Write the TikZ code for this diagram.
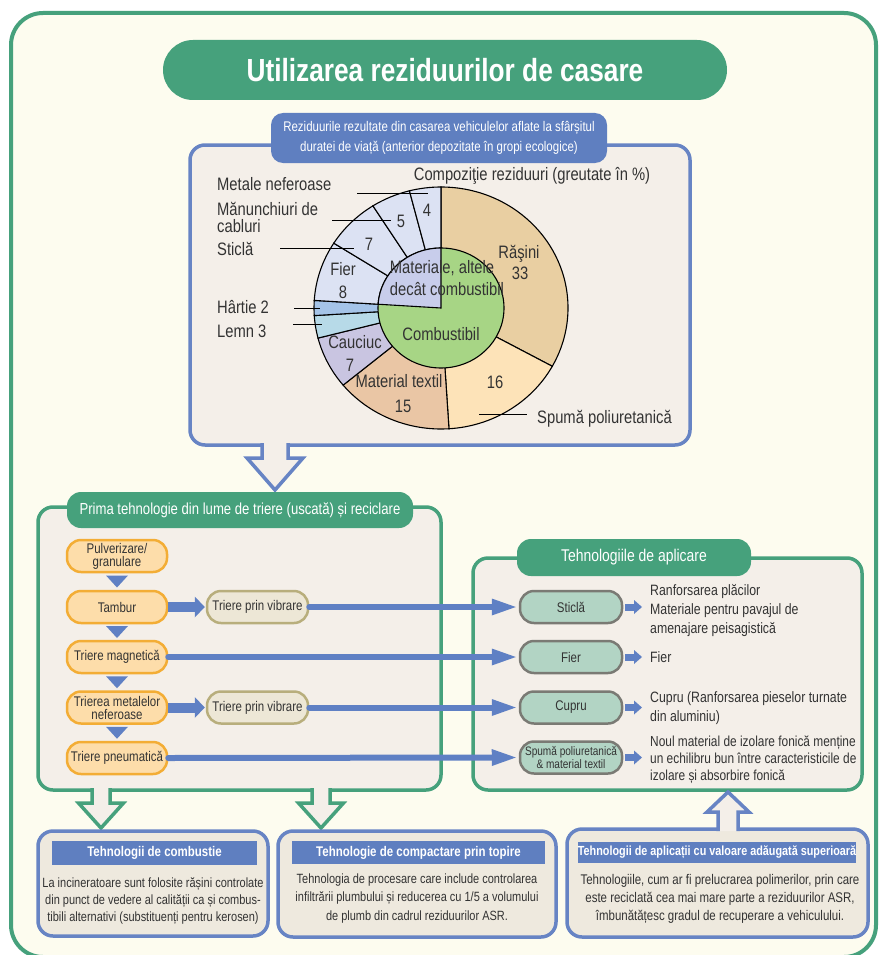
\documentclass[tikz,border=0pt]{standalone}
\usepackage{fontspec}
\setmainfont{Liberation Sans}[FakeStretch=0.82]
\usetikzlibrary{arrows.meta,calc}

\definecolor{cream}{HTML}{FDFCEF}
\definecolor{frameG}{HTML}{46A17C}
\definecolor{boxF}{HTML}{F4EFE9}
\definecolor{blueB}{HTML}{6784C4}
\definecolor{blueF}{HTML}{5F7FC0}
\definecolor{lineB}{HTML}{5F80C4}
\definecolor{orangeB}{HTML}{F3AD35}
\definecolor{orangeF}{HTML}{FDDDAA}
\definecolor{oliveB}{HTML}{B8AE7C}
\definecolor{oliveF}{HTML}{EDE7D6}
\definecolor{tealF}{HTML}{B2D4C4}
\definecolor{tealB}{HTML}{7A7A74}
\definecolor{lowF}{HTML}{EEE9DE}
\definecolor{txt}{HTML}{333333}
\definecolor{resin}{HTML}{E9CFA2}
\definecolor{foam}{HTML}{FDE3B8}
\definecolor{textile}{HTML}{EAC6A5}
\definecolor{rubber}{HTML}{C9C5E1}
\definecolor{wood}{HTML}{B7DAE8}
\definecolor{paper}{HTML}{A5C4E8}
\definecolor{metal}{HTML}{DCE2F3}
\definecolor{nonfuel}{HTML}{C8CDEB}
\definecolor{fuel}{HTML}{A7D585}

\newcommand\setfs[2]{\fontsize{#1}{#2}\selectfont}

\tikzset{
  every node/.style={inner sep=0pt, text=txt},
  heading/.style={fill=frameG, rounded corners=14pt, text=white, align=center},
  panel/.style={line width=3.5pt, rounded corners=15pt},
  pillbase/.style={line width=2.5pt, rounded corners=14pt, minimum height=32pt,
    align=center, font=\setfs{14}{13}},
  pillO/.style={pillbase, draw=orangeB, fill=orangeF, minimum width=100pt},
  pillV/.style={pillbase, draw=oliveB, fill=oliveF, minimum width=101pt},
  pillT/.style={pillbase, draw=tealB, fill=tealF, minimum width=102pt},
  feed/.style={draw=lineB, line width=6pt, line cap=round,
    -{Triangle[length=24pt,width=17pt,line width=0pt]}, shorten >=3pt},
  fatarrow/.style={draw=lineB, line width=10pt,
    -{Triangle[length=10pt,width=21pt,line width=0pt]}, shorten >=1pt},
  tiparrow/.style={draw=lineB, line width=7pt,
    -{Triangle[length=8pt,width=14pt,line width=0pt]}},
  slice/.style={draw=black, line width=1.1pt},
  lead/.style={draw=black, line width=1pt},
  pielbl/.style={font=\setfs{18}{17}},
  usetext/.style={anchor=west, align=left},
  lowhead/.style={fill=blueF, text=white, font=\bfseries\setfs{14}{14}},
  lowtext/.style={align=center},
  hollow/.style={line width=3.5pt, line join=miter}
}

\begin{document}
\begin{tikzpicture}[x=1pt, y=-1pt]
\useasboundingbox (0,0) rectangle (880,955);
\fill[white] (0,0) rectangle (880,955);

% outer frame and title
\filldraw[draw=frameG, fill=cream, line width=4pt, rounded corners=32pt] (11,13) rectangle (876,957);
\node[heading, rounded corners=30pt, minimum width=564pt, minimum height=60pt,
      font=\bfseries\setfs{32}{32}] (title) at (445,70) {Utilizarea reziduurilor de casare};

% residue composition panel
\filldraw[panel, draw=blueB, fill=boxF] (190,145) rectangle (690,445);
\node[fill=blueF, rounded corners=12pt, minimum width=336pt, minimum height=50pt,
      text=white, align=center, font=\setfs{14}{20.5}] (srchead) at (439,138)
  {Reziduurile rezultate din casarea vehiculelor aflate la sfârșitul\\duratei de viață (anterior depozitate în gropi ecologice)};

% doughnut chart
\coordinate (pc) at (441,308);
\begin{scope}[shift={(pc)}]
  \foreach \a/\b/\c in {90/-28.8/resin, -28.8/-86.4/foam, -86.4/-140.4/textile,
      -140.4/-165.6/rubber, -165.6/-176.4/wood, -176.4/-183.6/paper,
      -183.6/-212.4/metal, -212.4/-237.6/metal, -237.6/-255.6/metal, -255.6/-270/metal}
    \filldraw[slice, fill=\c] (0,0) -- (\a:127pt and 121pt)
      arc[start angle=\a, end angle=\b, x radius=127pt, y radius=121pt] -- cycle;
  \filldraw[slice, fill=fuel] (0,0) ellipse [x radius=63pt, y radius=60pt];
  \filldraw[slice, fill=nonfuel] (0,0) -- (90:63pt and 60pt)
    arc[start angle=90, end angle=176.4, x radius=63pt, y radius=60pt] -- cycle;
\end{scope}

\node[pielbl, anchor=base] (ctitle) at (532,180) {Compoziţie reziduuri (greutate în \%)};
\node[pielbl, anchor=base] (l33a) at (519,258) {Răşini};
\node[pielbl, anchor=base] (l33) at (520,279) {33};
\node[pielbl, anchor=base] (l16) at (495,388) {16};
\node[pielbl, anchor=base] (l15a) at (399,387) {Material textil};
\node[pielbl, anchor=base] (l15) at (403,412) {15};
\node[pielbl, anchor=base] (l7a) at (355,348) {Cauciuc};
\node[pielbl, anchor=base] (l7) at (350,371) {7};
\node[pielbl, anchor=base] (l8a) at (343,275) {Fier};
\node[pielbl, anchor=base] (l8) at (343,298) {8};
\node[pielbl, anchor=base] (lgl) at (369,250) {7};
\node[pielbl, anchor=base] (lcb) at (401,227) {5};
\node[pielbl, anchor=base] (lnf) at (427,216) {4};
\node[pielbl, anchor=base] (lnon1) at (442,273) {Materiale, altele};
\node[pielbl, anchor=base] (lnon2) at (447,295) {decât combustibil};
\node[pielbl, anchor=base] (lfuel) at (441,340) {Combustibil};

\node[pielbl, anchor=base west] (xnf) at (217,190) {Metale neferoase};
\node[pielbl, anchor=base west, align=left] (xcb) at (217,232) {Mănunchiuri de\\cabluri};
\node[pielbl, anchor=base west] (xgl) at (217,255) {Sticlă};
\node[pielbl, anchor=base west] (xpa) at (217,313) {Hârtie 2};
\node[pielbl, anchor=base west] (xwd) at (217,337) {Lemn 3};
\node[pielbl, anchor=base west] (xfm) at (537,423) {Spumă poliuretanică};

\coordinate (a1) at (357,193); \coordinate (b1) at (428,193);
\coordinate (a2) at (332,220); \coordinate (b2) at (391,220);
\coordinate (a3) at (280,248); \coordinate (b3) at (354,248);
\coordinate (a4) at (294,308); \coordinate (b4) at (320,308);
\coordinate (a5) at (293,324); \coordinate (b5) at (322,324);
\coordinate (a6) at (479,414); \coordinate (b6) at (527,414);
\foreach \i in {1,...,6} \draw[lead] (a\i) -- (b\i);

% hollow arrow leaving the composition panel
\coordinate (da) at (275,443);
\filldraw[hollow, draw=blueB, fill=boxF] ($(da)+(-13,0)$) -- ++(0,15) -- ++(-15,0)
  -- ($(da)+(0,47)$) -- ($(da)+(28,15)$) -- ++(-15,0) -- ++(0,-15);

% sorting panel
\filldraw[panel, draw=frameG, fill=boxF] (38,507) rectangle (441,790);
\node[heading, minimum width=346pt, minimum height=36pt, font=\setfs{16}{16}] (sorthead) at (240,510)
  {Prima tehnologie din lume de triere (uscată) și reciclare};

% application panel
\filldraw[panel, draw=frameG, fill=boxF] (473,558) rectangle (862,790);
\node[heading, minimum width=234pt, minimum height=37pt, font=\setfs{17}{17}] (apphead) at (634,557.5)
  {Tehnologiile de aplicare};

% sorting steps
\node[pillO] (pulv) at (117,556) {Pulverizare/\\granulare};
\node[pillO] (tamb) at (117,607) {Tambur};
\node[pillO] (magn) at (117,657) {Triere magnetică};
\node[pillO] (nefe) at (117,707.5) {Trierea metalelor\\neferoase};
\node[pillO] (pneu) at (117,758) {Triere pneumatică};
\node[pillV] (vib1) at (257.5,607) {Triere prin vibrare};
\node[pillV] (vib2) at (257.5,707.5) {Triere prin vibrare};

\foreach \u/\v in {pulv/tamb, tamb/magn, magn/nefe, nefe/pneu}
  \fill[lineB] ($(\u.south)!0.5!(\v.north)$) ++(-11,-6) -- ++(22,0) -- ++(-11,12) -- cycle;

\draw[fatarrow] (tamb.east) -- (vib1.west);
\draw[fatarrow] (nefe.east) -- (vib2.west);

% recovered materials
\node[pillT] (glass) at (571,607) {Sticlă};
\node[pillT] (iron) at (571,657) {Fier};
\node[pillT] (copper) at (571,707.5) {Cupru};
\node[pillT, font=\setfs{12.3}{13}] (foamp) at (571,757.5) {Spumă poliuretanică\\\& material textil};

\draw[feed] (vib1.east) -- (glass.west);
\draw[feed] (magn.east) -- (iron.west);
\draw[feed] (vib2.east) -- (copper.west);
\draw[feed] (pneu.east) -- (foamp.west);

\node[usetext, font=\setfs{15}{19}] (use1) at (650,611)
  {Ranforsarea plăcilor\\Materiale pentru pavajul de\\amenajare peisagistică};
\node[usetext, font=\setfs{15}{19}] (use2) at (650,657) {Fier};
\node[usetext, font=\setfs{15}{19}] (use3) at (650,708.5)
  {Cupru (Ranforsarea pieselor turnate\\din aluminiu)};
\node[usetext, font=\setfs{14.5}{17}] (use4) at (650,760)
  {Noul material de izolare fonică menține\\un echilibru bun între caracteristicile de\\izolare și absorbire fonică};

\draw[tiparrow, shorten <=2pt, shorten >=8pt] (glass.east) -- (glass.east -| use1.west);
\draw[tiparrow, shorten <=2pt, shorten >=8pt] (iron.east) -- (iron.east -| use2.west);
\draw[tiparrow, shorten <=2pt, shorten >=8pt] (copper.east) -- (copper.east -| use3.west);
\draw[tiparrow, shorten <=2pt, shorten >=8pt] (foamp.east) -- (foamp.east -| use4.west);

% hollow arrows leaving the sorting panel
\foreach \cx in {101,321} {
  \coordinate (ga) at (\cx,788);
  \filldraw[hollow, draw=frameG, fill=boxF] ($(ga)+(-9,0)$) -- ++(0,15) -- ++(-13.5,0)
    -- ($(ga)+(0,40)$) -- ($(ga)+(22.5,15)$) -- ++(-13.5,0) -- ++(0,-15);
}

% downstream technologies
\filldraw[panel, draw=blueB, fill=lowF] (38,831) rectangle (268,936);
\node[lowhead, minimum width=205pt, minimum height=24pt] (h1) at (154.5,853) {Tehnologii de combustie};
\node[lowtext, font=\setfs{13.4}{17}] (b1) at (153,901)
  {La incineratoare sunt folosite rășini controlate\\din punct de vedere al calității ca și combus-\\tibili alternativi (substituenți pentru kerosen)};

\filldraw[panel, draw=blueB, fill=lowF] (278,831) rectangle (556,937);
\node[lowhead, minimum width=253pt, minimum height=23pt] (h2) at (418.5,852.5) {Tehnologie de compactare prin topire};
\node[lowtext, font=\setfs{13.4}{18.5}] (b2) at (417,898.5)
  {Tehnologia de procesare care include controlarea\\infiltrării plumbului și reducerea cu 1/5 a volumului\\de plumb din cadrul reziduurilor ASR.};

\filldraw[panel, draw=blueB, fill=lowF] (567,829) rectangle (868,937);
\node[lowhead, minimum width=278pt, minimum height=21pt, font=\bfseries\setfs{13.2}{13.2}] (h3) at (717,852.5)
  {Tehnologii de aplicații cu valoare adăugată superioară};
\node[lowtext, font=\setfs{14}{18}] (b3) at (720,899)
  {Tehnologiile, cum ar fi prelucrarea polimerilor, prin care\\este reciclată cea mai mare parte a reziduurilor ASR,\\îmbunătățesc gradul de recuperare a vehiculului.};

% hollow arrow feeding back into the application panel
\coordinate (ua) at (728,831);
\filldraw[hollow, draw=blueB, fill=boxF] ($(ua)+(-10,0)$) -- ++(0,-19) -- ++(-11,0)
  -- ($(ua)+(0,-39)$) -- ($(ua)+(21,-19)$) -- ++(-11,0) -- ++(0,19);
\end{tikzpicture}
\end{document}
